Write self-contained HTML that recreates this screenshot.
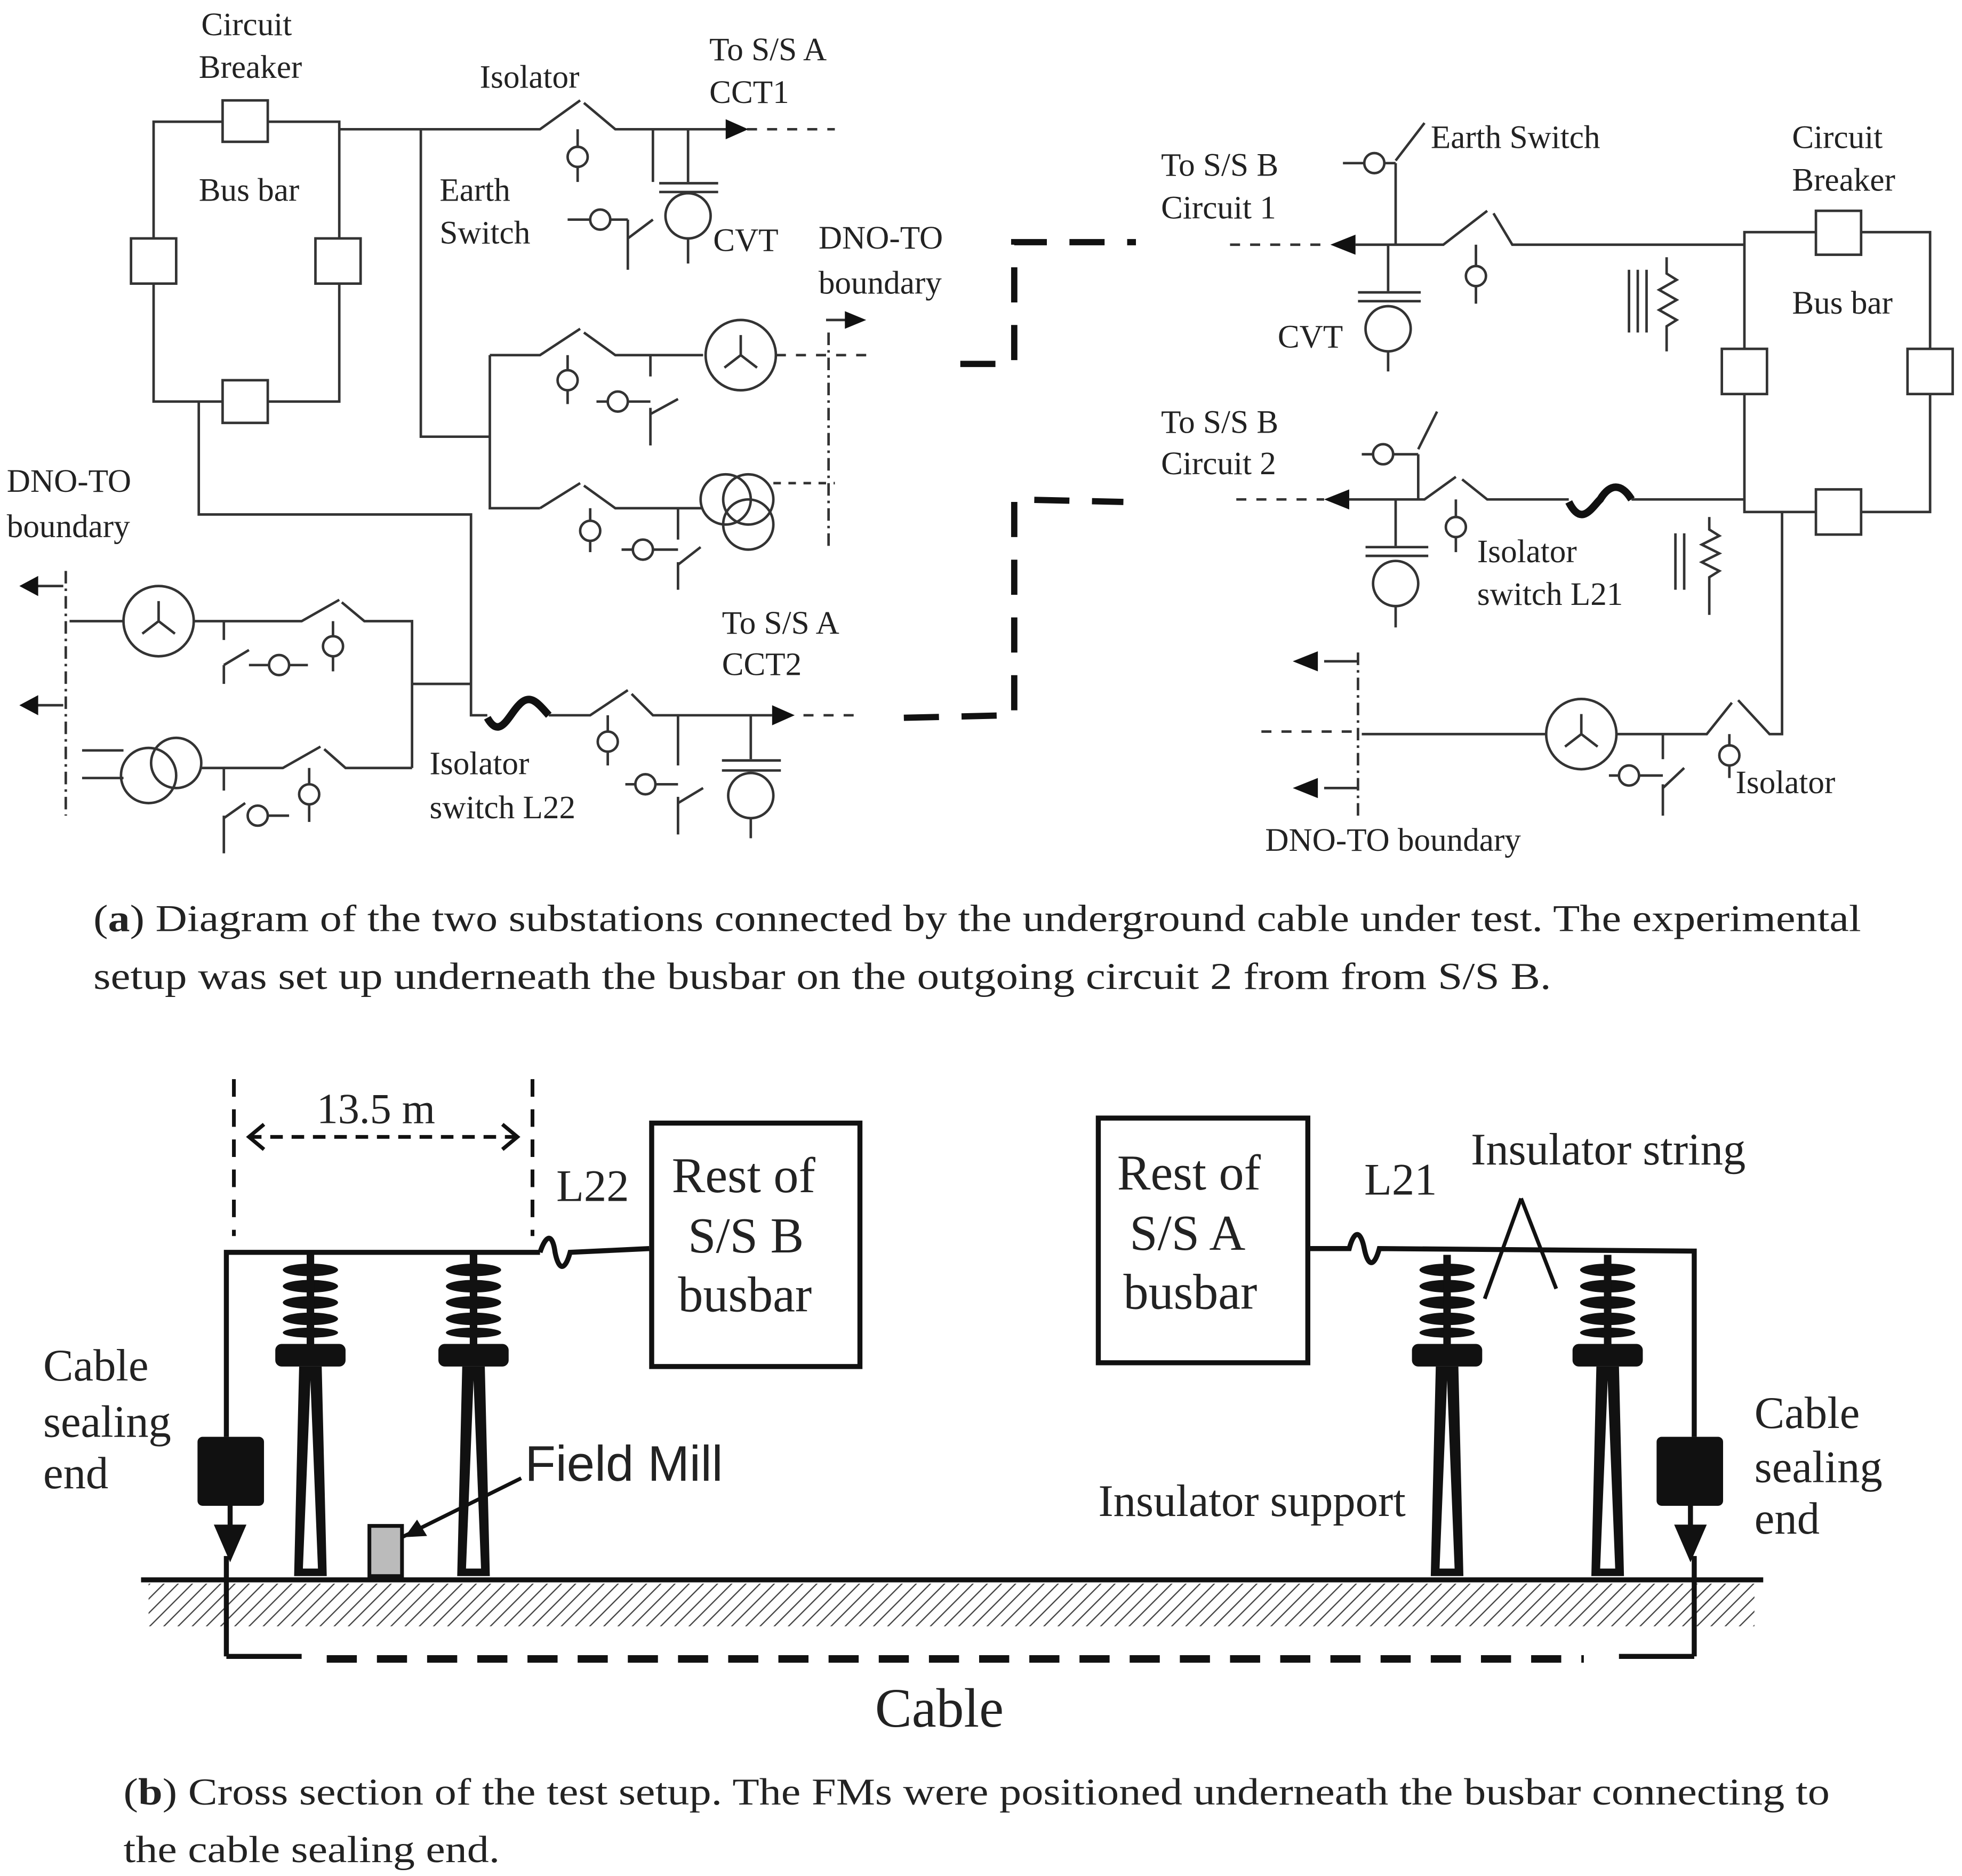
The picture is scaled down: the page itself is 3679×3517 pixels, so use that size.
<!DOCTYPE html>
<html><head><meta charset="utf-8"><style>
html,body{margin:0;padding:0;background:#fff}
svg{display:block}
text{font-family:"Liberation Serif",serif;fill:#222}
</style></head><body>
<svg width="3679" height="3517" viewBox="0 0 1563 1495" xmlns="http://www.w3.org/2000/svg">
<defs>
<pattern id="hatch" width="8" height="8" patternUnits="userSpaceOnUse" patternTransform="rotate(45)">
<line x1="0" y1="0" x2="0" y2="8" stroke="#444" stroke-width="2"/></pattern>
</defs>
<g stroke="#333" stroke-width="2" fill="none">
<rect x="122" y="97" width="148" height="223"/>
<rect x="177" y="80" width="36" height="33" fill="#fff"/>
<rect x="177" y="303" width="36" height="34" fill="#fff"/>
<rect x="104" y="190" width="36" height="36" fill="#fff"/>
<rect x="251" y="190" width="36" height="36" fill="#fff"/>
<polyline points="270,103 430,103 462,80"/>
<polyline points="465,82 490,103 580,103"/>
<line x1="460" y1="103" x2="460" y2="118"/><circle cx="460" cy="125" r="8"/><line x1="460" y1="133" x2="460" y2="145"/>
<line x1="520" y1="103" x2="520" y2="145"/><line x1="500" y1="175" x2="500" y2="215"/><line x1="500" y1="190" x2="520" y2="175"/>
<circle cx="478" cy="175" r="8"/><line x1="452" y1="175" x2="470" y2="175"/><line x1="486" y1="175" x2="500" y2="175"/>
<line x1="548" y1="103" x2="548" y2="145"/><line x1="525" y1="146" x2="572" y2="146"/><line x1="525" y1="153" x2="572" y2="153"/>
<circle cx="548" cy="172" r="18"/><line x1="548" y1="190" x2="548" y2="210"/>
<line x1="595" y1="103" x2="665" y2="103" stroke-dasharray="8,8"/>
<polyline points="335,103 335,348 390,348"/>
<polyline points="390,283 390,405 430,405"/>
<polyline points="390,283 430,283 462,262"/>
<polyline points="465,265 490,283 560,283"/>
<circle cx="590" cy="283" r="28"/><path d="M590,283 l0,-16 M590,283 l-13,10 M590,283 l13,10"/>
<line x1="618" y1="283" x2="690" y2="283" stroke-dasharray="8,8"/>
<line x1="452" y1="283" x2="452" y2="295"/><circle cx="452" cy="303" r="8"/><line x1="452" y1="311" x2="452" y2="322"/>
<line x1="518" y1="283" x2="518" y2="300"/><line x1="518" y1="325" x2="518" y2="355"/><line x1="518" y1="330" x2="540" y2="318"/>
<circle cx="492" cy="320" r="8"/><line x1="475" y1="320" x2="484" y2="320"/><line x1="500" y1="320" x2="518" y2="320"/>
<polyline points="465,387 490,405 560,405"/><line x1="430" y1="405" x2="462" y2="385"/>
<circle cx="578" cy="398" r="20"/><circle cx="596" cy="398" r="20"/><circle cx="596" cy="418" r="20"/>
<line x1="616" y1="385" x2="665" y2="385" stroke-dasharray="6,6"/>
<line x1="470" y1="405" x2="470" y2="415"/><circle cx="470" cy="423" r="8"/><line x1="470" y1="431" x2="470" y2="440"/>
<line x1="540" y1="405" x2="540" y2="430"/><line x1="540" y1="448" x2="540" y2="470"/><line x1="540" y1="450" x2="558" y2="436"/>
<circle cx="512" cy="438" r="8"/><line x1="495" y1="438" x2="504" y2="438"/><line x1="520" y1="438" x2="540" y2="438"/>
<line x1="660" y1="265" x2="660" y2="435" stroke-dasharray="10,4,2,4"/>
<polyline points="158,320 158,410 375,410 375,570 388,570"/>
<path d="M388,572 C398,590 405,570 413,562 C422,552 428,560 437,570" stroke="#111" stroke-width="6"/>
<polyline points="437,570 470,570 500,550"/><polyline points="503,553 520,570 615,570"/>
<line x1="640" y1="570" x2="685" y2="570" stroke-dasharray="8,8"/>
<line x1="484" y1="570" x2="484" y2="583"/><circle cx="484" cy="591" r="8"/><line x1="484" y1="599" x2="484" y2="610"/>
<line x1="540" y1="570" x2="540" y2="610"/><line x1="540" y1="635" x2="540" y2="665"/><line x1="540" y1="640" x2="560" y2="628"/>
<circle cx="514" cy="625" r="8"/><line x1="498" y1="625" x2="506" y2="625"/><line x1="522" y1="625" x2="540" y2="625"/>
<line x1="598" y1="570" x2="598" y2="605"/><line x1="575" y1="606" x2="622" y2="606"/><line x1="575" y1="614" x2="622" y2="614"/>
<circle cx="598" cy="634" r="18"/><line x1="598" y1="652" x2="598" y2="668"/>
<line x1="52" y1="455" x2="52" y2="650" stroke-dasharray="10,4,2,4"/>
<line x1="55" y1="495" x2="98" y2="495"/>
<circle cx="126" cy="495" r="28"/><path d="M126,495 l0,-16 M126,495 l-13,10 M126,495 l13,10"/>
<polyline points="154,495 240,495 270,478"/><polyline points="272,480 290,495 328,495 328,612"/>
<line x1="328" y1="545" x2="375" y2="545"/>
<line x1="178" y1="495" x2="178" y2="510"/><line x1="178" y1="530" x2="178" y2="545"/><line x1="178" y1="530" x2="198" y2="518"/>
<circle cx="222" cy="530" r="8"/><line x1="198" y1="530" x2="214" y2="530"/><line x1="230" y1="530" x2="245" y2="530"/>
<line x1="265" y1="495" x2="265" y2="507"/><circle cx="265" cy="515" r="8"/><line x1="265" y1="523" x2="265" y2="535"/>
<line x1="65" y1="598" x2="98" y2="598"/><line x1="65" y1="620" x2="98" y2="620"/>
<circle cx="118" cy="618" r="22"/><circle cx="140" cy="608" r="20"/>
<polyline points="160,612 225,612 255,595"/><polyline points="258,597 275,612 328,612"/>
<line x1="178" y1="612" x2="178" y2="630"/><line x1="178" y1="650" x2="178" y2="680"/><line x1="178" y1="652" x2="195" y2="640"/>
<circle cx="205" cy="650" r="8"/><line x1="213" y1="650" x2="230" y2="650"/>
<line x1="246" y1="612" x2="246" y2="625"/><circle cx="246" cy="633" r="8"/><line x1="246" y1="641" x2="246" y2="655"/>
<rect x="1390" y="185" width="148" height="223"/>
<rect x="1447" y="168" width="36" height="35" fill="#fff"/>
<rect x="1447" y="390" width="36" height="36" fill="#fff"/>
<rect x="1372" y="278" width="36" height="36" fill="#fff"/>
<rect x="1520" y="278" width="36" height="36" fill="#fff"/>
<line x1="980" y1="195" x2="1060" y2="195" stroke-dasharray="8,8"/>
<polyline points="1080,195 1150,195 1185,168"/><polyline points="1190,170 1205,195 1390,195"/>
<line x1="1112" y1="195" x2="1112" y2="130"/><line x1="1112" y1="128" x2="1135" y2="98"/>
<circle cx="1095" cy="130" r="8"/><line x1="1070" y1="130" x2="1087" y2="130"/><line x1="1103" y1="130" x2="1112" y2="130"/>
<line x1="1106" y1="195" x2="1106" y2="232"/><line x1="1082" y1="233" x2="1132" y2="233"/><line x1="1082" y1="240" x2="1132" y2="240"/>
<circle cx="1106" cy="262" r="18"/><line x1="1106" y1="280" x2="1106" y2="296"/>
<line x1="1176" y1="195" x2="1176" y2="212"/><circle cx="1176" cy="220" r="8"/><line x1="1176" y1="228" x2="1176" y2="242"/>
<line x1="1298" y1="215" x2="1298" y2="265"/><line x1="1305" y1="215" x2="1305" y2="265"/><line x1="1312" y1="215" x2="1312" y2="265"/>
<path d="M1328,205 L1328,218 l8,5 l-14,8 l14,8 l-14,8 l14,8 l-8,5 L1328,280"/>
<line x1="985" y1="398" x2="1055" y2="398" stroke-dasharray="8,8"/>
<polyline points="1075,398 1135,398 1160,380"/><polyline points="1165,382 1185,398 1250,398"/>
<path d="M1250,400 C1260,420 1268,405 1275,398 C1283,385 1292,385 1300,398" stroke="#111" stroke-width="6"/>
<line x1="1300" y1="398" x2="1390" y2="398"/>
<line x1="1130" y1="398" x2="1130" y2="362"/><line x1="1130" y1="358" x2="1145" y2="328"/>
<circle cx="1102" cy="362" r="8"/><line x1="1085" y1="362" x2="1094" y2="362"/><line x1="1110" y1="362" x2="1130" y2="362"/>
<line x1="1112" y1="398" x2="1112" y2="435"/><line x1="1088" y1="436" x2="1138" y2="436"/><line x1="1088" y1="443" x2="1138" y2="443"/>
<circle cx="1112" cy="465" r="18"/><line x1="1112" y1="483" x2="1112" y2="500"/>
<line x1="1160" y1="398" x2="1160" y2="412"/><circle cx="1160" cy="420" r="8"/><line x1="1160" y1="428" x2="1160" y2="440"/>
<line x1="1335" y1="425" x2="1335" y2="470"/><line x1="1342" y1="425" x2="1342" y2="470"/>
<path d="M1362,412 l0,10 l8,5 l-14,7 l14,7 l-14,7 l14,7 l-8,5 L1362,490"/>
<polyline points="1420,408 1420,585 1410,585 1385,558"/><polyline points="1380,560 1360,585 1288,585"/>
<circle cx="1260" cy="585" r="28"/><path d="M1260,585 l0,-16 M1260,585 l-13,10 M1260,585 l13,10"/>
<line x1="1232" y1="585" x2="1085" y2="585"/>
<line x1="1005" y1="583" x2="1085" y2="583" stroke-dasharray="8,8"/>
<line x1="1082" y1="520" x2="1082" y2="650" stroke-dasharray="10,4,2,4"/>
<line x1="1055" y1="527" x2="1082" y2="527"/><line x1="1055" y1="628" x2="1082" y2="628"/>
<line x1="1325" y1="585" x2="1325" y2="605"/><line x1="1325" y1="625" x2="1325" y2="650"/><line x1="1325" y1="628" x2="1342" y2="612"/>
<circle cx="1298" cy="618" r="8"/><line x1="1282" y1="618" x2="1290" y2="618"/><line x1="1306" y1="618" x2="1325" y2="618"/>
<line x1="1378" y1="585" x2="1378" y2="595"/><circle cx="1378" cy="602" r="8"/><line x1="1378" y1="610" x2="1378" y2="620"/>
<line x1="658" y1="255" x2="675" y2="255"/>
<line x1="18" y1="467" x2="50" y2="467"/><line x1="18" y1="562" x2="50" y2="562"/>
</g>
<g fill="#111">
<polygon points="596,103 578,95 578,111"/>
<polygon points="633,570 615,562 615,578"/>
<polygon points="1060,195 1080,187 1080,203"/>
<polygon points="1055,398 1075,390 1075,406"/>
<polygon points="690,255 673,248 673,262"/>
<polygon points="15,467 30,459 30,475"/><polygon points="15,562 30,554 30,570"/>
<polygon points="1030,527 1050,519 1050,535"/><polygon points="1030,628 1050,620 1050,636"/>
</g>
<g stroke="#111" stroke-width="5" fill="none" stroke-dasharray="28,18">
<polyline points="765,290 808,290 808,193 905,193"/>
<polyline points="720,572 805,570 808,570 808,398 895,400"/>
</g>
<g font-size="26">
<text x="160" y="28">Circuit</text><text x="158" y="62">Breaker</text>
<text x="158" y="160">Bus bar</text><text x="382" y="70">Isolator</text>
<text x="565" y="48">To S/S A</text><text x="565" y="82">CCT1</text>
<text x="350" y="160">Earth</text><text x="350" y="194">Switch</text>
<text x="568" y="200">CVT</text><text x="652" y="198">DNO-TO</text><text x="652" y="234">boundary</text>
<text x="5" y="392">DNO-TO</text><text x="5" y="428">boundary</text>
<text x="575" y="505">To S/S A</text><text x="575" y="538">CCT2</text>
<text x="342" y="617">Isolator</text><text x="342" y="652">switch L22</text>
<text x="925" y="140">To S/S B</text><text x="925" y="174">Circuit 1</text>
<text x="1140" y="118">Earth Switch</text>
<text x="1428" y="118">Circuit</text><text x="1428" y="152">Breaker</text>
<text x="1428" y="250">Bus bar</text><text x="1018" y="277">CVT</text>
<text x="925" y="345">To S/S B</text><text x="925" y="378">Circuit 2</text>
<text x="1177" y="448">Isolator</text><text x="1177" y="482">switch L21</text>
<text x="1383" y="632">Isolator</text><text x="1008" y="678">DNO-TO boundary</text>
</g>
<g font-size="30">
<text x="74" y="742" textLength="1409" lengthAdjust="spacingAndGlyphs">(<tspan font-weight="bold">a</tspan>) Diagram of the two substations connected by the underground cable under test. The experimental</text>
<text x="74" y="788" textLength="1162" lengthAdjust="spacingAndGlyphs">setup was set up underneath the busbar on the outgoing circuit 2 from from S/S B.</text>
<text x="98" y="1438" textLength="1360" lengthAdjust="spacingAndGlyphs">(<tspan font-weight="bold">b</tspan>) Cross section of the test setup. The FMs were positioned underneath the busbar connecting to</text>
<text x="98" y="1484" textLength="300" lengthAdjust="spacingAndGlyphs">the cable sealing end.</text>
</g>
<rect x="118" y="1262" width="1280" height="34" fill="url(#hatch)"/>
<line x1="112" y1="1259" x2="1405" y2="1259" stroke="#111" stroke-width="4"/>
<g stroke="#111" stroke-width="3" fill="none">
<line x1="186" y1="860" x2="186" y2="985" stroke-dasharray="14,10"/>
<line x1="424" y1="860" x2="424" y2="985" stroke-dasharray="14,10"/>
<line x1="198" y1="906" x2="412" y2="906" stroke-dasharray="10,7"/>
<polyline points="210,896 198,906 210,916"/><polyline points="400,896 412,906 400,916"/>
<line x1="1183" y1="1035" x2="1212" y2="955"/><line x1="1212" y1="955" x2="1240" y2="1027"/>
<line x1="320" y1="1225" x2="415" y2="1178"/>
</g>
<g stroke="#111" stroke-width="4" fill="none">
<polyline points="430,998 180,998 180,1145"/>
<path d="M430,998 c5,-15 10,-15 12,0 c3,15 8,15 12,0 L517,995"/>
<rect x="519" y="895" width="166" height="194"/>
<rect x="875" y="891" width="167" height="195"/>
<path d="M1043,995 L1075,995 c4,-15 9,-15 12,0 c3,15 8,15 12,0 L1350,997 L1350,1145"/>
<line x1="180" y1="1240" x2="180" y2="1320"/><line x1="180" y1="1320" x2="240" y2="1320"/>
<line x1="1350" y1="1240" x2="1350" y2="1320"/><line x1="1290" y1="1320" x2="1350" y2="1320"/>
<line x1="260" y1="1322" x2="1262" y2="1322" stroke-width="6" stroke-dasharray="24,16"/>
</g>
<polygon points="322,1225 332,1211 340,1224" fill="#111"/>
<rect x="157" y="1145" width="53" height="55" rx="4" fill="#111"/>
<rect x="1320" y="1145" width="53" height="55" rx="4" fill="#111"/>
<line x1="183" y1="1200" x2="183" y2="1240" stroke="#111" stroke-width="4"/>
<line x1="1347" y1="1200" x2="1347" y2="1240" stroke="#111" stroke-width="4"/>
<polygon points="170,1215 196,1215 183,1245" fill="#111"/>
<polygon points="1334,1215 1360,1215 1347,1245" fill="#111"/>
<rect x="294" y="1216" width="26" height="40" fill="#bbb" stroke="#111" stroke-width="3"/>
<g id="ins">
<g fill="#111">
<ellipse cx="247" cy="1012" rx="22" ry="5"/><ellipse cx="247" cy="1025" rx="22" ry="5"/>
<ellipse cx="247" cy="1038" rx="22" ry="5"/><ellipse cx="247" cy="1051" rx="22" ry="5"/>
<ellipse cx="247" cy="1062" rx="22" ry="4"/>
<rect x="219" y="1071" width="56" height="18" rx="5"/>
<rect x="244" y="1000" width="6" height="72"/>
</g>
<path d="M238,1089 L234,1256 L260,1256 L256,1089 Z M247,1100 L241,1250 L253,1250 Z" fill="#111" fill-rule="evenodd"/>
</g>
<use href="#ins" transform="translate(130,0)"/>
<use href="#ins" transform="translate(906,0)"/>
<use href="#ins" transform="translate(1034,0)"/>
<g font-size="36">
<text x="252" y="895" font-size="34">13.5 m</text>
<text x="443" y="957">L22</text><text x="1087" y="952">L21</text>
<text x="1172" y="928">Insulator string</text>
<text x="535" y="950" font-size="40">Rest of</text><text x="548" y="998" font-size="40">S/S B</text><text x="540" y="1045" font-size="40">busbar</text>
<text x="890" y="948" font-size="40">Rest of</text><text x="900" y="996" font-size="40">S/S A</text><text x="895" y="1043" font-size="40">busbar</text>
<text x="34" y="1100">Cable</text><text x="34" y="1145">sealing</text><text x="34" y="1186">end</text>
<text x="1398" y="1138">Cable</text><text x="1398" y="1181">sealing</text><text x="1398" y="1222">end</text>
<text x="875" y="1208">Insulator support</text>
<text x="697" y="1376" font-size="44">Cable</text>
</g>
<text x="418" y="1180" font-size="40" style="font-family:'Liberation Sans',sans-serif">Field Mill</text>
</svg>
</body></html>
